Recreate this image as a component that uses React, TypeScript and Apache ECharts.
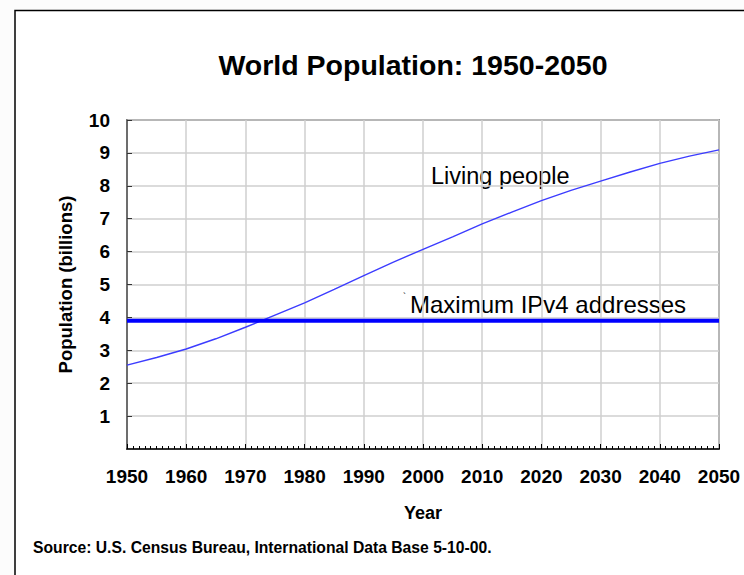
import React, { useEffect, useRef } from "react";
import * as echarts from "echarts";

const years = [1950, 1955, 1960, 1965, 1970, 1975, 1980, 1985, 1990, 1995, 2000, 2005, 2010, 2015, 2020, 2025, 2030, 2035, 2040, 2045, 2050];
const livingPeople = [2.55, 2.78, 3.04, 3.35, 3.7, 4.07, 4.44, 4.85, 5.27, 5.68, 6.07, 6.45, 6.84, 7.2, 7.55, 7.86, 8.14, 8.42, 8.68, 8.9, 9.09];
const ipv4Years = [1950, 2050];
const ipv4Value = [3.9, 3.9];

const titleText = "World Population: 1950-2050";
const xName = "Year";
const yName = "Population (billions)";
const sourceText = "Source: U.S. Census Bureau, International Data Base 5-10-00.";
const livingLabel = "Living people";
const ipv4Label = "Maximum IPv4 addresses";

const FONT = "'Liberation Sans', Arial, sans-serif";

export default function App() {
  const ref = useRef<HTMLDivElement>(null);
  useEffect(() => {
    if (!ref.current) return;
    const chart = echarts.init(ref.current, null, { renderer: "svg" });
    chart.setOption({
      animation: false,
      backgroundColor: "#fcfcfc",
      textStyle: { fontFamily: FONT },
      graphic: [
        {
          type: "rect",
          z: -100,
          silent: true,
          shape: { x: 15, y: 10.5, width: 800, height: 700 },
          style: { fill: "#fff", stroke: "#000", lineWidth: 1.5 },
        },
        {
          type: "text",
          x: 413,
          y: 65,
          style: {
            text: titleText,
            fontSize: 28.5,
            fontWeight: "bold",
            fill: "#000",
            fontFamily: FONT,
            align: "center",
            verticalAlign: "middle",
          },
        },
        {
          type: "text",
          left: 431,
          top: 164,
          style: { text: livingLabel, fontSize: 23.5, fill: "#000", fontFamily: FONT },
        },
        {
          type: "text",
          left: 410,
          top: 292,
          style: { text: ipv4Label, fontSize: 24, fill: "#000", fontFamily: FONT },
        },
        {
          type: "text",
          left: 403,
          top: 291,
          style: { text: "`", fontSize: 9, fill: "#000", fontFamily: FONT },
        },
        {
          type: "text",
          left: 33,
          top: 539,
          style: { text: sourceText, fontSize: 15.7, fontWeight: "bold", fill: "#000", fontFamily: FONT },
        },
      ],
      grid: {
        left: 127,
        top: 120,
        width: 592,
        height: 329,
        show: true,
        borderColor: "#444",
        borderWidth: 1.5,
        backgroundColor: "#fff",
      },
      xAxis: {
        type: "value",
        min: 1950,
        max: 2050,
        interval: 10,
        name: xName,
        nameLocation: "middle",
        nameGap: 55,
        nameTextStyle: { fontSize: 18, fontWeight: "bold", color: "#000", fontFamily: FONT },
        axisLine: { show: true, lineStyle: { color: "#000", width: 1.5 } },
        axisTick: { show: true, inside: true, length: 5, lineStyle: { color: "#000", width: 1 } },
        minorTick: { show: true, splitNumber: 10, length: 3, lineStyle: { color: "#000", width: 1 } },
        axisLabel: {
          margin: 18,
          fontSize: 19,
          fontWeight: "bold",
          color: "#000",
          fontFamily: FONT,
          formatter: (v: number) => String(v),
        },
        splitLine: { show: true, lineStyle: { color: "#cfcfcf", width: 1.5 } },
      },
      yAxis: {
        type: "value",
        min: 0,
        max: 10,
        interval: 1,
        name: yName,
        nameLocation: "middle",
        nameGap: 52,
        nameTextStyle: { fontSize: 18.5, fontWeight: "bold", color: "#000", fontFamily: FONT },
        axisLine: { show: true, lineStyle: { color: "#555", width: 1.5 } },
        axisTick: { show: true, inside: true, length: 5, lineStyle: { color: "#333", width: 1 } },
        axisLabel: {
          margin: 17,
          fontSize: 19,
          fontWeight: "bold",
          color: "#000",
          fontFamily: FONT,
          formatter: (v: number) => (v === 0 ? "" : String(v)),
        },
        splitLine: { show: true, lineStyle: { color: "#cfcfcf", width: 1.5 } },
      },
      series: [
        {
          name: livingLabel,
          type: "line",
          data: years.map((y, i) => [y, livingPeople[i]]),
          showSymbol: false,
          smooth: false,
          lineStyle: { color: "#3c3cff", width: 1.4 },
          z: 3,
        },
        {
          name: ipv4Label,
          type: "line",
          data: ipv4Years.map((y, i) => [y, ipv4Value[i]]),
          showSymbol: false,
          lineStyle: { color: "#0000ff", width: 4 },
          z: 4,
        },
      ],
    });
    return () => chart.dispose();
  }, []);
  return (
    <div
      ref={ref}
      style={{ position: "absolute", left: 0, top: 0, width: 744, height: 575 }}
    />
  );
}
